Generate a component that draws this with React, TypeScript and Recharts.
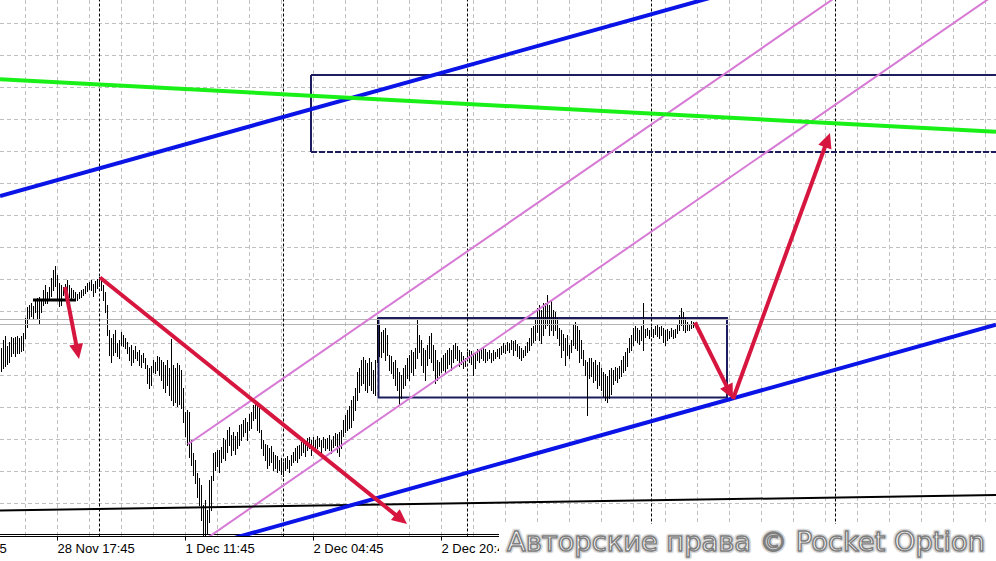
import React from "react";
import { ComposedChart, Bar, XAxis, YAxis, CartesianGrid, ReferenceLine, ReferenceArea } from "recharts";

// ---- price bars (M15), index = bar number from the left edge ----
const highs = [
  1.2652, 1.2660, 1.2664, 1.2654, 1.2658, 1.2663, 1.2662, 1.2663, 1.2664, 1.2662,
  1.2664, 1.2667, 1.2682, 1.2693, 1.2695, 1.2697, 1.2694, 1.2701, 1.2702, 1.2703,
  1.2700, 1.2710, 1.2715, 1.2708, 1.2713, 1.2722, 1.2730, 1.2734, 1.2725, 1.2717,
  1.2715, 1.2713, 1.2716, 1.2720, 1.2715, 1.2712, 1.2710, 1.2708, 1.2706, 1.2708,
  1.2710, 1.2711, 1.2714, 1.2717, 1.2718, 1.2720, 1.2716, 1.2719, 1.2721, 1.2723,
  1.2719, 1.2715, 1.2708, 1.2695, 1.2670, 1.2662, 1.2666, 1.2670, 1.2657, 1.2660,
  1.2668, 1.2665, 1.2662, 1.2658, 1.2653, 1.2655, 1.2650, 1.2654, 1.2648, 1.2650,
  1.2645, 1.2647, 1.2642, 1.2635, 1.2632, 1.2634, 1.2640, 1.2638, 1.2644, 1.2643,
  1.2640, 1.2638, 1.2635, 1.2640, 1.2632, 1.2661, 1.2635, 1.2632, 1.2637, 1.2635,
  1.2630, 1.2612, 1.2588, 1.2590, 1.2588, 1.2560, 1.2547, 1.2540, 1.2527, 1.2522,
  1.2515, 1.2495, 1.2500, 1.2490, 1.2520, 1.2524, 1.2547, 1.2548, 1.2550, 1.2550,
  1.2553, 1.2562, 1.2560, 1.2570, 1.2573, 1.2565, 1.2568, 1.2564, 1.2568, 1.2575,
  1.2576, 1.2580, 1.2582, 1.2578, 1.2586, 1.2588, 1.2595, 1.2600, 1.2598, 1.2592,
  1.2570, 1.2560, 1.2556, 1.2555, 1.2552, 1.2554, 1.2548, 1.2545, 1.2544, 1.2540,
  1.2542, 1.2538, 1.2542, 1.2544, 1.2540, 1.2545, 1.2548, 1.2552, 1.2554, 1.2555,
  1.2558, 1.2560, 1.2558, 1.2562, 1.2563, 1.2560, 1.2563, 1.2560, 1.2564, 1.2562,
  1.2560, 1.2563, 1.2561, 1.2562, 1.2565, 1.2560, 1.2564, 1.2567, 1.2566, 1.2568,
  1.2570, 1.2580, 1.2585, 1.2590, 1.2594, 1.2600, 1.2604, 1.2612, 1.2628, 1.2632,
  1.2640, 1.2643, 1.2640, 1.2637, 1.2642, 1.2638, 1.2630, 1.2640, 1.2682, 1.2675,
  1.2668, 1.2670, 1.2672, 1.2665, 1.2645, 1.2644, 1.2638, 1.2640, 1.2632, 1.2628,
  1.2625, 1.2632, 1.2635, 1.2642, 1.2645, 1.2650, 1.2648, 1.2652, 1.2680, 1.2665,
  1.2660, 1.2652, 1.2650, 1.2655, 1.2664, 1.2667, 1.2655, 1.2650, 1.2640, 1.2638,
  1.2642, 1.2645, 1.2647, 1.2650, 1.2652, 1.2650, 1.2655, 1.2657, 1.2654, 1.2650,
  1.2648, 1.2644, 1.2642, 1.2648, 1.2650, 1.2649, 1.2647, 1.2648, 1.2651, 1.2650,
  1.2652, 1.2653, 1.2651, 1.2648, 1.2650, 1.2647, 1.2650, 1.2648, 1.2651, 1.2652,
  1.2654, 1.2657, 1.2655, 1.2658, 1.2657, 1.2660, 1.2659, 1.2660, 1.2656, 1.2654,
  1.2652, 1.2650, 1.2654, 1.2658, 1.2662, 1.2672, 1.2674, 1.2680, 1.2692, 1.2695,
  1.2690, 1.2697, 1.2697, 1.2705, 1.2695, 1.2700, 1.2690, 1.2688, 1.2682, 1.2672,
  1.2670, 1.2666, 1.2662, 1.2665, 1.2655, 1.2660, 1.2675, 1.2678, 1.2674, 1.2670,
  1.2660, 1.2650, 1.2640, 1.2638, 1.2642, 1.2642, 1.2638, 1.2640, 1.2635, 1.2638,
  1.2632, 1.2628, 1.2626, 1.2624, 1.2630, 1.2632, 1.2630, 1.2633, 1.2632, 1.2634,
  1.2640, 1.2644, 1.2648, 1.2652, 1.2662, 1.2665, 1.2672, 1.2674, 1.2672, 1.2670,
  1.2674, 1.2697, 1.2671, 1.2672, 1.2670, 1.2673, 1.2671, 1.2674, 1.2675, 1.2673,
  1.2674, 1.2672, 1.2670, 1.2671, 1.2669, 1.2672, 1.2670, 1.2671, 1.2675, 1.2685,
  1.2692, 1.2688, 1.2682, 1.2678, 1.2676, 1.2679, 1.2678,
];
const lows = [
  1.2629, 1.2632, 1.2634, 1.2636, 1.2638, 1.2644, 1.2647, 1.2644, 1.2647, 1.2647,
  1.2649, 1.2650, 1.2662, 1.2673, 1.2682, 1.2684, 1.2682, 1.2688, 1.2682, 1.2677,
  1.2688, 1.2695, 1.2697, 1.2697, 1.2700, 1.2704, 1.2710, 1.2714, 1.2700, 1.2694,
  1.2695, 1.2705, 1.2702, 1.2702, 1.2703, 1.2702, 1.2703, 1.2701, 1.2700, 1.2702,
  1.2703, 1.2705, 1.2707, 1.2709, 1.2711, 1.2710, 1.2704, 1.2708, 1.2712, 1.2714,
  1.2710, 1.2700, 1.2688, 1.2665, 1.2645, 1.2638, 1.2645, 1.2648, 1.2644, 1.2642,
  1.2655, 1.2654, 1.2652, 1.2647, 1.2640, 1.2635, 1.2638, 1.2642, 1.2640, 1.2635,
  1.2633, 1.2638, 1.2632, 1.2617, 1.2612, 1.2615, 1.2628, 1.2627, 1.2630, 1.2625,
  1.2620, 1.2612, 1.2608, 1.2615, 1.2605, 1.2600, 1.2595, 1.2598, 1.2594, 1.2596,
  1.2592, 1.2578, 1.2564, 1.2555, 1.2543, 1.2535, 1.2525, 1.2517, 1.2503, 1.2495,
  1.2480, 1.2463, 1.2465, 1.2466, 1.2478, 1.2490, 1.2520, 1.2530, 1.2534, 1.2528,
  1.2538, 1.2542, 1.2540, 1.2548, 1.2555, 1.2545, 1.2550, 1.2546, 1.2552, 1.2555,
  1.2560, 1.2564, 1.2568, 1.2560, 1.2570, 1.2572, 1.2580, 1.2582, 1.2570, 1.2568,
  1.2552, 1.2545, 1.2540, 1.2532, 1.2535, 1.2538, 1.2530, 1.2532, 1.2528, 1.2530,
  1.2526, 1.2524, 1.2530, 1.2532, 1.2528, 1.2535, 1.2538, 1.2540, 1.2538, 1.2542,
  1.2545, 1.2548, 1.2544, 1.2550, 1.2552, 1.2545, 1.2553, 1.2548, 1.2552, 1.2554,
  1.2548, 1.2553, 1.2550, 1.2552, 1.2550, 1.2547, 1.2553, 1.2555, 1.2548, 1.2544,
  1.2552, 1.2564, 1.2568, 1.2570, 1.2572, 1.2573, 1.2580, 1.2590, 1.2600, 1.2608,
  1.2615, 1.2617, 1.2610, 1.2608, 1.2615, 1.2610, 1.2607, 1.2605, 1.2638, 1.2644,
  1.2643, 1.2648, 1.2640, 1.2645, 1.2630, 1.2627, 1.2622, 1.2615, 1.2610, 1.2596,
  1.2602, 1.2612, 1.2615, 1.2622, 1.2620, 1.2628, 1.2625, 1.2632, 1.2642, 1.2648,
  1.2635, 1.2628, 1.2620, 1.2635, 1.2642, 1.2638, 1.2630, 1.2617, 1.2620, 1.2625,
  1.2628, 1.2630, 1.2628, 1.2632, 1.2636, 1.2630, 1.2638, 1.2642, 1.2640, 1.2634,
  1.2636, 1.2632, 1.2634, 1.2640, 1.2638, 1.2636, 1.2625, 1.2632, 1.2640, 1.2638,
  1.2642, 1.2640, 1.2638, 1.2640, 1.2642, 1.2638, 1.2640, 1.2642, 1.2644, 1.2642,
  1.2646, 1.2648, 1.2647, 1.2650, 1.2648, 1.2651, 1.2645, 1.2650, 1.2644, 1.2642,
  1.2640, 1.2643, 1.2645, 1.2648, 1.2650, 1.2655, 1.2658, 1.2660, 1.2668, 1.2660,
  1.2657, 1.2665, 1.2672, 1.2675, 1.2665, 1.2670, 1.2665, 1.2670, 1.2662, 1.2655,
  1.2643, 1.2650, 1.2635, 1.2645, 1.2642, 1.2648, 1.2655, 1.2652, 1.2650, 1.2638,
  1.2642, 1.2635, 1.2625, 1.2585, 1.2622, 1.2624, 1.2618, 1.2620, 1.2612, 1.2615,
  1.2610, 1.2604, 1.2600, 1.2598, 1.2602, 1.2606, 1.2616, 1.2620, 1.2618, 1.2622,
  1.2624, 1.2628, 1.2630, 1.2634, 1.2648, 1.2650, 1.2655, 1.2660, 1.2658, 1.2656,
  1.2660, 1.2650, 1.2663, 1.2665, 1.2662, 1.2664, 1.2663, 1.2666, 1.2664, 1.2662,
  1.2665, 1.2658, 1.2655, 1.2660, 1.2662, 1.2664, 1.2662, 1.2663, 1.2667, 1.2670,
  1.2675, 1.2670, 1.2668, 1.2670, 1.2670, 1.2672, 1.2673,
];

// ---- axes ----
const gridTicksX = [-36, -20, -4, 12, 28, 44, 60, 76, 92, 108, 124, 140, 156, 172, 188, 204, 220, 236,
  252, 268, 284, 300, 316, 332, 348, 364, 380, 396, 412, 428, 444, 460, 476, 492];
const labelTickIdx = [-36, 28, 92, 156, 220];
const labelTickText = ["28 Nov 01:45", "28 Nov 17:45", "1 Dec 11:45", "2 Dec 04:45", "2 Dec 20:45"];
const gridTicksY = [1.29765, 1.29445, 1.29125, 1.28805, 1.28485, 1.28165, 1.27845, 1.27525, 1.27205,
  1.26885, 1.26565, 1.26245, 1.25925, 1.25605, 1.25285, 1.24965];
const daySeparators = [49, 141, 233, 325, 417];
const priceLines = [1.26805, 1.26755];
const frameLow = 1.24655;

// ---- drawn objects, anchors in [barIndex, price] ----
const blueUpper = [[-0.75, 1.2804], [497.25, 1.30819]];
const blueLower = [[-0.75, 1.23964], [497.25, 1.26753]];
const greenLine = [[-0.75, 1.29207], [497.25, 1.28683]];
const blackLine = [[-0.75, 1.24895], [497.25, 1.2505]];
const blackShort = [[15.75, 1.27], [37.25, 1.27]];
const pinkUpper = [[93.1, 1.25557], [497.25, 1.31134]];
const pinkLower = [[-0.75, 1.2319], [497.25, 1.30062]];
const boxTop = { x1: 154.75, x2: 520, y1: 1.2848, y2: 1.2925 };
const boxMid = { x1: 188.5, x2: 362.75, y1: 1.26025, y2: 1.2682 };
const arrows = [
  [[31.75, 1.2713], [38.75, 1.2641]],
  [[49.25, 1.27225], [202.75, 1.2476]],
  [[346.75, 1.26775], [365.75, 1.2601]],
  [[365.75, 1.2601], [414.25, 1.2867]],
];
const watermark = "Авторские права © Pocket Option";

const data = highs.map((h, i) => ({ i, range: [lows[i], h] }));

const OhlcShape = (props: any) => {
  const { x, y, width, height } = props;
  if (x == null || y == null) return <g />;
  const cx = Math.round(x + width / 2 - 0.5) + 0.5;
  const top = Math.min(y, y + height);
  const bot = Math.max(y, y + height);
  return <line x1={cx} x2={cx} y1={top} y2={bot + 1} stroke="#000" strokeWidth={1} />;
};

const ArrowShape = (props: any) => {
  const { x1, y1, x2, y2, stroke, strokeWidth } = props;
  const dx = x2 - x1;
  const dy = y2 - y1;
  const len = Math.hypot(dx, dy) || 1;
  const ux = dx / len;
  const uy = dy / len;
  const headLen = 15;
  const half = 7;
  const bx = x2 - ux * headLen;
  const by = y2 - uy * headLen;
  const pts = `${x2},${y2} ${bx - uy * half},${by + ux * half} ${bx + uy * half},${by - ux * half}`;
  return (
    <g>
      <line x1={x1} y1={y1} x2={bx + ux * 2} y2={by + uy * 2} stroke={stroke} strokeWidth={strokeWidth} />
      <polygon points={pts} fill={stroke} />
    </g>
  );
};

const TimeTick = (props: any) => {
  const { x, y, payload } = props;
  const k = labelTickIdx.indexOf(payload.value);
  if (k < 0) return <g />;
  return (
    <g>
      <line x1={x} x2={x} y1={y} y2={y + 4} stroke="#000" strokeWidth={1} />
      <text x={x} y={y + 16.5} textAnchor="start" fontFamily="'Liberation Sans', Arial, sans-serif" fontSize={13} fill="#000">
        {labelTickText[k]}
      </text>
    </g>
  );
};

const seg = (p: number[][]) => [{ x: p[0][0], y: p[0][1] }, { x: p[1][0], y: p[1][1] }];

export default function App() {
  return (
    <div style={{ position: "absolute", left: 0, top: 0, width: 996, height: 561, background: "#fff" }}>
      <ComposedChart width={996} height={561} data={data} margin={{ top: 0, right: 0, bottom: 0, left: 0 }} barCategoryGap={0}>
        <CartesianGrid stroke="#c0c0c0" strokeDasharray="4 3" verticalValues={gridTicksX} horizontalValues={gridTicksY} />
        <XAxis type="number" dataKey="i" domain={[-0.75, 497.25]} allowDataOverflow ticks={gridTicksX} interval={0}
          height={24.5} tickSize={0} tickMargin={0} tickLine={false} axisLine={{ stroke: "#000" }} tick={<TimeTick />} />
        <YAxis hide type="number" domain={[1.24635, 1.3]} allowDataOverflow ticks={gridTicksY} />
        {priceLines.map((p) => (
          <ReferenceLine key={"pl" + p} y={p} stroke="#b4b4b4" strokeWidth={1} ifOverflow="hidden" />
        ))}
        <ReferenceLine y={frameLow} stroke="#000" strokeWidth={1} ifOverflow="hidden" />
        {daySeparators.map((d) => (
          <ReferenceLine key={"sep" + d} x={d} stroke="#000" strokeWidth={1} strokeDasharray="3 2" ifOverflow="hidden" />
        ))}
        <Bar dataKey="range" shape={<OhlcShape />} isAnimationActive={false} />
        <ReferenceArea x1={boxMid.x1} x2={boxMid.x2} y1={boxMid.y1} y2={boxMid.y2} fill="none" fillOpacity={0}
          stroke="#1c1c5e" strokeWidth={2} ifOverflow="hidden" />
        <ReferenceLine segment={[{ x: boxTop.x1, y: boxTop.y2 }, { x: boxTop.x2, y: boxTop.y2 }]} stroke="#1c1c5e" strokeWidth={2} ifOverflow="hidden" />
        <ReferenceLine segment={[{ x: boxTop.x1, y: boxTop.y1 }, { x: boxTop.x1, y: boxTop.y2 }]} stroke="#1c1c5e" strokeWidth={2} ifOverflow="hidden" />
        <ReferenceLine segment={[{ x: boxTop.x1, y: boxTop.y1 }, { x: boxTop.x2, y: boxTop.y1 }]} stroke="#1c1c5e" strokeWidth={2} strokeDasharray="6 2" ifOverflow="hidden" />
        <ReferenceLine segment={seg(pinkUpper)} stroke="#d77ad6" strokeWidth={2} ifOverflow="hidden" />
        <ReferenceLine segment={seg(pinkLower)} stroke="#d77ad6" strokeWidth={2} ifOverflow="hidden" />
        <ReferenceLine segment={seg(blackLine)} stroke="#000" strokeWidth={2} ifOverflow="hidden" />
        <ReferenceLine segment={seg(blackShort)} stroke="#000" strokeWidth={3} ifOverflow="hidden" />
        <ReferenceLine segment={seg(blueUpper)} stroke="#0a14e6" strokeWidth={4} ifOverflow="hidden" />
        <ReferenceLine segment={seg(blueLower)} stroke="#0a14e6" strokeWidth={4} ifOverflow="hidden" />
        <ReferenceLine segment={seg(greenLine)} stroke="#18f018" strokeWidth={4} ifOverflow="hidden" />
        {arrows.map((a, k) => (
          <ReferenceLine key={"arr" + k} segment={seg(a)} stroke="#d6163f" strokeWidth={4} ifOverflow="visible" shape={<ArrowShape />} />
        ))}
      </ComposedChart>
      <div style={{ position: "absolute", left: 499, top: 524, width: 497, height: 37, background: "#fff" }}>
        <svg width={497} height={37}>
          <text x={8} y={27} fontFamily="'DejaVu Sans', Verdana, sans-serif" fontSize={26} textLength={478}
            lengthAdjust="spacingAndGlyphs" fill="#fff" stroke="#d8d8d8" strokeWidth={4.5} strokeLinejoin="round">
            {watermark}
          </text>
          <text x={8} y={27} fontFamily="'DejaVu Sans', Verdana, sans-serif" fontSize={26} textLength={478}
            lengthAdjust="spacingAndGlyphs" fill="#fff" stroke="#7e7e7e" strokeWidth={1.4} strokeLinejoin="round">
            {watermark}
          </text>
        </svg>
      </div>
    </div>
  );
}
